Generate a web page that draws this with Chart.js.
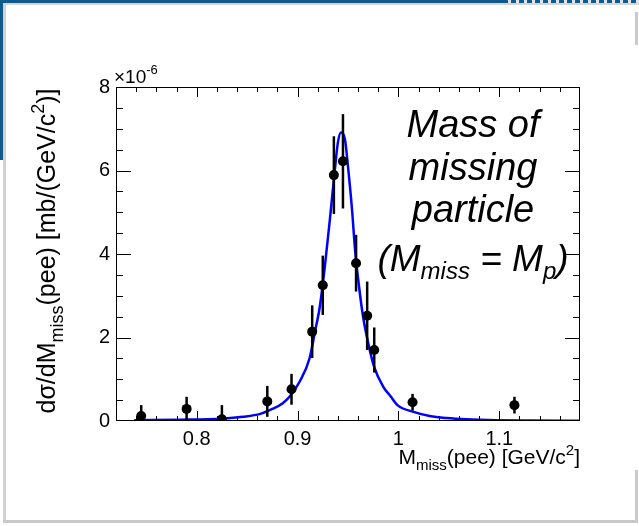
<!DOCTYPE html>
<html>
<head>
<meta charset="utf-8">
<script src="https://cdn.jsdelivr.net/npm/chart.js@4.4.0/dist/chart.umd.min.js"></script>
<style>
  html, body { margin: 0; padding: 0; background: #fff; }
  #wrap { position: relative; width: 639px; height: 526px; overflow: hidden; }
  .deco { position: absolute; }
  canvas { position: absolute; left: 0; top: 0; }
</style>
</head>
<body>
<div id="wrap">
  <div class="deco" style="left:0;top:0;width:639px;height:3px;background:#115b8c"></div>
  <div class="deco" style="left:503px;top:0;width:136px;height:3px;background:repeating-linear-gradient(90deg,#115b8c 0 5px,#dfe7ee 5px 8px)"></div>
  <div class="deco" style="left:0;top:0;width:3px;height:160px;background:#115b8c"></div>
  <div class="deco" style="left:3px;top:3px;width:636px;height:2px;background:#d6d6d6"></div>
  <div class="deco" style="left:3px;top:3px;width:3px;height:520px;background:#d2d2d2"></div>
  <div class="deco" style="left:3px;top:520px;width:633px;height:3px;background:#c9c9c9"></div>
  <div class="deco" style="left:635px;top:470px;width:3px;height:53px;background:#c9c9c9"></div>
  <div class="deco" style="left:635px;top:12px;width:3px;height:33px;background:#c9c9c9"></div>
  <canvas id="c" width="639" height="526"></canvas>
</div>
<script>
// measured points (x in GeV/c^2, y in units of 1e-6 mb/(GeV/c^2))
const massX    = [0.745, 0.790, 0.825, 0.870, 0.894, 0.9145, 0.925, 0.936, 0.945, 0.958, 0.969, 0.976, 1.014, 1.115];
const sigma    = [0.12, 0.29, 0.04, 0.47, 0.76, 2.14, 3.25, 5.89, 6.22, 3.78, 2.52, 1.70, 0.45, 0.38];
const sigmaErr = [0.26, 0.29, 0.34, 0.37, 0.37, 0.63, 0.71, 0.93, 1.13, 0.68, 0.82, 0.54, 0.20, 0.20];

// fitted curve
const fitX = [0.738, 0.783, 0.825, 0.846, 0.863, 0.875, 0.885, 0.892, 0.902, 0.912, 0.917, 0.922, 0.927,
              0.932, 0.936, 0.940, 0.943, 0.947, 0.950, 0.954, 0.957, 0.961, 0.965, 0.970, 0.976,
              0.985, 0.992, 0.999, 1.015, 1.031, 1.048, 1.068, 1.098, 1.131, 1.180];
const fitY = [0.02, 0.03, 0.055, 0.10, 0.17, 0.29, 0.42, 0.58, 0.94, 1.51, 2.11, 2.73, 3.69,
              4.82, 5.78, 6.67, 6.91, 6.74, 6.09, 5.06, 4.10, 3.21, 2.49, 1.87, 1.29,
              0.82, 0.60, 0.38, 0.22, 0.12, 0.07, 0.04, 0.02, 0.012, 0.005];

const xTicks = [0.8, 0.9, 1, 1.1];
const yTicks = [0, 2, 4, 6, 8];

const FONT = '"Liberation Sans", Arial, Helvetica, sans-serif';

// draw a run of text pieces (normal / sub / sup) starting at x
function textWidth(ctx, parts, size, style) {
  let w = 0;
  parts.forEach(p => {
    ctx.font = `${style} ${Math.round(size * (p.s || 1))}px ${FONT}`;
    w += ctx.measureText(p.t).width;
  });
  return w;
}

function drawRich(ctx, parts, x, y, size, style, align) {
  const w = textWidth(ctx, parts, size, style);
  let cx = align === 'right' ? x - w : align === 'center' ? x - w / 2 : x;
  ctx.textBaseline = 'alphabetic';
  ctx.textAlign = 'left';
  parts.forEach(p => {
    ctx.font = `${style} ${Math.round(size * (p.s || 1))}px ${FONT}`;
    ctx.fillText(p.t, cx, y + (p.dy || 0) * size);
    cx += ctx.measureText(p.t).width;
  });
}

const rootFrame = {
  id: 'rootFrame',
  afterDatasetsDraw(chart) {
    const { ctx, chartArea: a, scales: { x, y } } = chart;
    ctx.save();

    // error bars
    ctx.strokeStyle = '#000';
    ctx.lineWidth = 2.5;
    massX.forEach((m, i) => {
      const px = x.getPixelForValue(m);
      ctx.beginPath();
      ctx.moveTo(px, y.getPixelForValue(Math.max(0, sigma[i] - sigmaErr[i])));
      ctx.lineTo(px, y.getPixelForValue(sigma[i] + sigmaErr[i]));
      ctx.stroke();
    });

    // frame + inward ticks on all sides
    ctx.lineWidth = 1;
    ctx.strokeRect(a.left + 0.5, a.top + 0.5, a.width - 1, a.height - 1);
    ctx.beginPath();
    for (let k = 37; k <= 58; k++) {
      const px = Math.round(x.getPixelForValue(k * 0.02)) + 0.5;
      const len = k % 5 === 0 ? 10 : 5;
      ctx.moveTo(px, a.bottom); ctx.lineTo(px, a.bottom - len);
      ctx.moveTo(px, a.top); ctx.lineTo(px, a.top + len);
    }
    for (let k = 1; k < 16; k++) {
      const py = Math.round(y.getPixelForValue(k * 0.5)) + 0.5;
      const len = k % 4 === 0 ? 15 : 7;
      ctx.moveTo(a.left, py); ctx.lineTo(a.left + len, py);
      ctx.moveTo(a.right, py); ctx.lineTo(a.right - len, py);
    }
    ctx.stroke();

    ctx.fillStyle = '#000';
    // exponent above the y axis
    drawRich(ctx, [{ t: '\u00d710' }, { t: '-6', s: 0.7, dy: -0.45 }], a.left - 2, a.top - 4, 19, 'normal', 'left');

    // x title
    drawRich(ctx, [
      { t: 'M' }, { t: 'miss', s: 0.7, dy: 0.3 }, { t: '(pee) [GeV/c' }, { t: '2', s: 0.7, dy: -0.45 }, { t: ']' }
    ], a.right, 464, 21, 'normal', 'right');

    // y title (rotated)
    ctx.save();
    ctx.translate(55, 251);
    ctx.rotate(-Math.PI / 2);
    drawRich(ctx, [
      { t: 'd\u03c3/dM' }, { t: 'miss', s: 0.7, dy: 0.3 }, { t: '(pee) [mb/(GeV/c' }, { t: '2', s: 0.7, dy: -0.45 }, { t: ')]' }
    ], 0, 0, 25, 'normal', 'center');
    ctx.restore();

    // annotation
    const cx = 473;
    drawRich(ctx, [{ t: 'Mass of' }], cx, 137, 38, 'italic', 'center');
    drawRich(ctx, [{ t: 'missing' }], cx, 180, 38, 'italic', 'center');
    drawRich(ctx, [{ t: 'particle' }], cx, 222, 38, 'italic', 'center');
    drawRich(ctx, [
      { t: '(M' }, { t: 'miss', s: 0.65, dy: 0.22 }, { t: ' = M' }, { t: 'p', s: 0.65, dy: 0.22 }, { t: ')' }
    ], cx, 271, 37, 'italic', 'center');

    ctx.restore();
  }
};

new Chart(document.getElementById('c'), {
  type: 'scatter',
  data: {
    datasets: [
      {
        label: 'data',
        order: 0,
        data: massX.map((m, i) => ({ x: m, y: sigma[i] })),
        pointRadius: 5,
        pointBackgroundColor: '#000',
        pointBorderWidth: 0,
        showLine: false
      },
      {
        label: 'fit',
        type: 'line',
        order: 1,
        data: fitX.map((m, i) => ({ x: m, y: fitY[i] })),
        borderColor: '#0000ff',
        borderWidth: 2.5,
        pointRadius: 0,
        fill: false,
        cubicInterpolationMode: 'monotone'
      }
    ]
  },
  options: {
    responsive: false,
    animation: false,
    layout: { padding: { top: 87, right: 59, left: 0, bottom: 0 } },
    scales: {
      x: {
        type: 'linear',
        min: 0.72,
        max: 1.18,
        afterBuildTicks: s => { s.ticks = xTicks.map(v => ({ value: v })); },
        afterFit: s => { s.height = 105; },
        grid: { display: false },
        border: { display: false },
        ticks: {
          color: '#000',
          padding: -2,
          maxRotation: 0,
          font: { family: FONT, size: 20 },
          callback: v => String(v)
        }
      },
      y: {
        type: 'linear',
        min: 0,
        max: 8,
        afterBuildTicks: s => { s.ticks = yTicks.map(v => ({ value: v })); },
        afterFit: s => { s.width = 116; },
        grid: { display: false },
        border: { display: false },
        ticks: {
          color: '#000',
          padding: -2,
          font: { family: FONT, size: 20 },
          callback: v => String(v)
        }
      }
    },
    plugins: {
      legend: { display: false },
      tooltip: { enabled: false }
    }
  },
  plugins: [rootFrame]
});
</script>
</body>
</html>
